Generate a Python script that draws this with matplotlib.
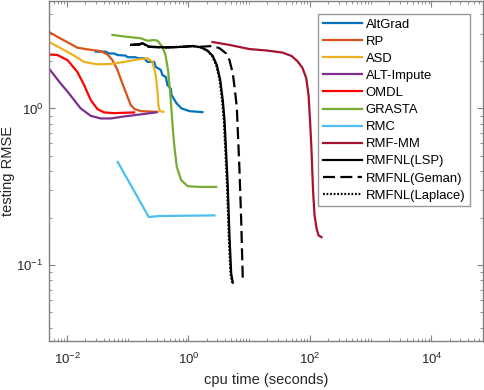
import numpy as np
import matplotlib
matplotlib.use("Agg")
import matplotlib.pyplot as plt
from matplotlib.ticker import FixedLocator, LogLocator, NullFormatter

plt.rcParams['font.family'] = ['Liberation Sans', 'DejaVu Sans']
plt.rcParams['mathtext.fontset'] = 'custom'
plt.rcParams['mathtext.rm'] = 'Liberation Sans'
plt.rcParams['mathtext.it'] = 'Liberation Sans:italic'

# curves (cpu time in s, testing RMSE)
altgrad_t = [0.0297, 0.0434, 0.0494, 0.0597, 0.0676, 0.0927, 0.0989, 0.135, 0.145, 0.186, 0.211, 0.272,
             0.289, 0.350, 0.373, 0.423, 0.451, 0.511, 0.525, 0.634, 0.767, 1.04, 1.70]
altgrad_e = [2.30, 2.30, 2.24, 2.24, 2.19, 2.17, 2.12, 2.12, 2.09, 2.09, 1.98, 1.98,
             1.84, 1.76, 1.63, 1.59, 1.41, 1.34, 1.22, 1.08, 1.00, 0.961, 0.947]

rp_t = [0.005, 0.00695, 0.0102, 0.0148, 0.0217, 0.0355, 0.0463, 0.056, 0.0676, 0.0818, 0.0989,
        0.112, 0.130, 0.164, 0.308]
rp_e = [3.08, 2.86, 2.64, 2.44, 2.38, 2.32, 2.21, 2.03, 1.76, 1.44, 1.19, 1.05, 0.99, 0.961, 0.951]

asd_t = [0.005, 0.00787, 0.0131, 0.0191, 0.0317, 0.0525, 0.0872, 0.145, 0.211, 0.255, 0.289, 0.3085,
         0.320, 0.337, 0.387]
asd_e = [2.66, 2.42, 2.17, 1.98, 1.91, 1.92, 1.98, 2.05, 2.09, 1.98, 1.63, 1.28, 1.05, 0.961, 0.951]

alt_t = [0.005, 0.00613, 0.00787, 0.0102, 0.0131, 0.0168, 0.0246, 0.0359, 0.0525, 0.0872, 0.164, 0.289]
alt_e = [1.80, 1.63, 1.44, 1.28, 1.13, 1.00, 0.897, 0.863, 0.863, 0.889, 0.916, 0.943]

omdl_t = [0.005, 0.00695, 0.0102, 0.0148, 0.0191, 0.0246, 0.0317, 0.0409, 0.0597, 0.1275]
omdl_e = [2.21, 2.19, 2.03, 1.71, 1.41, 1.13, 0.99, 0.943, 0.933, 0.943]

grasta_t = [0.056, 0.0989, 0.164, 0.211, 0.272, 0.3085, 0.373, 0.418, 0.460, 0.496, 0.525, 0.555,
            0.588, 0.642, 0.758, 0.974, 1.52, 2.86]
grasta_e = [2.94, 2.86, 2.80, 2.70, 2.73, 2.70, 2.47, 2.19, 1.76, 1.31, 0.975, 0.727,
            0.566, 0.424, 0.349, 0.319, 0.316, 0.316]

rmc_t = [0.0684, 0.222, 0.333, 2.68]
rmc_e = [0.456, 0.203, 0.206, 0.208]

rmfmm_t = [2.49, 4.74, 10.1, 19.3, 35.4, 49.8, 62.5, 75.5, 86.9, 94.8, 100.4, 106.2, 112.5, 119.0,
           128.5, 138.6, 155.2]
rmfmm_e = [2.65, 2.54, 2.39, 2.34, 2.27, 2.16, 2.00, 1.81, 1.56, 1.22, 0.841, 0.542, 0.301, 0.209,
           0.172, 0.155, 0.151]

lsp_t = [0.114, 0.156, 0.177, 0.228, 0.429, 0.806, 1.18, 1.62, 2.08, 2.51, 2.93, 3.33, 3.67, 3.92,
         4.18, 4.44, 4.74, 5.05, 5.37]
lsp_e = [2.54, 2.56, 2.60, 2.47, 2.45, 2.47, 2.50, 2.45, 2.33, 2.16, 1.89, 1.52, 1.13, 0.842,
         0.516, 0.316, 0.152, 0.0885, 0.0775]

geman_t = [0.114, 0.156, 0.177, 0.228, 0.429, 0.806, 1.18, 1.52, 2.51, 3.24, 4.18, 4.74, 5.37, 5.73,
           6.25, 6.92, 7.38, 7.85, 8.06]
geman_e = [2.54, 2.56, 2.60, 2.47, 2.45, 2.47, 2.50, 2.47, 2.50, 2.42, 2.24, 2.03, 1.67, 1.37,
           1.02, 0.404, 0.194, 0.0802, 0.0775]

laplace_t = [0.111, 0.152, 0.173, 0.222, 0.418, 0.786, 1.15, 1.58, 2.03, 2.45, 2.86, 3.25, 3.58, 3.82,
             4.08, 4.33, 4.62, 4.92, 5.24]
laplace_e = [2.54, 2.56, 2.60, 2.47, 2.45, 2.47, 2.50, 2.45, 2.33, 2.16, 1.89, 1.52, 1.13, 0.842,
             0.516, 0.316, 0.152, 0.0885, 0.0775]

fig = plt.figure(figsize=(4.84, 3.90), dpi=100)
ax = fig.add_axes([49 / 484, 49 / 390, 434 / 484, 340 / 390])

lw = 1.6
ax.plot(altgrad_t, altgrad_e, color='#0072BD', lw=lw, label='AltGrad')
ax.plot(rp_t, rp_e, color='#D95319', lw=lw, label='RP')
ax.plot(asd_t, asd_e, color='#EDB120', lw=lw, label='ASD')
ax.plot(alt_t, alt_e, color='#7E2F8E', lw=lw, label='ALT-Impute')
ax.plot(omdl_t, omdl_e, color='#FF0000', lw=lw, label='OMDL')
ax.plot(grasta_t, grasta_e, color='#77AC30', lw=lw, label='GRASTA')
ax.plot(rmc_t, rmc_e, color='#4DBEEE', lw=lw, label='RMC')
ax.plot(rmfmm_t, rmfmm_e, color='#A2142F', lw=lw, label='RMF-MM')
ax.plot(lsp_t, lsp_e, color='black', lw=lw, label='RMFNL(LSP)')
ax.plot(geman_t, geman_e, color='black', lw=lw, ls=(0, (5.4, 2.4)), label='RMFNL(Geman)')
ax.plot(laplace_t, laplace_e, color='black', lw=lw, ls=(0, (0.8, 0.8)), label='RMFNL(Laplace)')

ax.set_xscale('log')
ax.set_yscale('log')
ax.set_xlim(0.00505, 70800)
ax.set_ylim(0.0329, 4.84)

ax.xaxis.set_major_locator(FixedLocator([1e-2, 1e0, 1e2, 1e4]))
ax.set_xticklabels([r'$\mathdefault{10^{-2}}$', r'$\mathdefault{10^{0}}$',
                    r'$\mathdefault{10^{2}}$', r'$\mathdefault{10^{4}}$'])
ax.xaxis.set_minor_locator(LogLocator(base=10, subs=np.arange(1, 10), numticks=50))
ax.xaxis.set_minor_formatter(NullFormatter())
ax.yaxis.set_major_locator(FixedLocator([1e-1, 1e0]))
ax.set_yticklabels([r'$\mathdefault{10^{-1}}$', r'$\mathdefault{10^{0}}$'])
ax.yaxis.set_minor_locator(LogLocator(base=10, subs=np.arange(2, 10), numticks=50))
ax.yaxis.set_minor_formatter(NullFormatter())

ax.tick_params(which='both', direction='in', top=True, right=True, color='#808080',
               labelcolor='#262626', labelsize=9.5)
ax.tick_params(axis='x', which='major', pad=8)
ax.tick_params(axis='y', which='major', pad=4)
ax.tick_params(which='major', length=4, width=0.8)
ax.tick_params(which='minor', length=2.2, width=0.6)
for s in ax.spines.values():
    s.set_color('#808080')
    s.set_linewidth(1.0)

ax.set_xlabel('cpu time (seconds)', fontsize=10.5, color='#262626')
ax.xaxis.set_label_coords(0.5, -0.093)
ax.set_ylabel('testing RMSE', fontsize=10.5, color='#262626')
ax.yaxis.set_label_coords(-0.078, 0.5)

leg = ax.legend(loc='upper right', bbox_to_anchor=(0.970, 0.962), borderaxespad=0,
                fontsize=9.4, frameon=True, fancybox=False, handlelength=3.0,
                handletextpad=0.3, labelspacing=0.38, borderpad=0.35)
leg.get_frame().set_edgecolor('#808080')
leg.get_frame().set_linewidth(1.0)

fig.savefig('out.png', dpi=100)
